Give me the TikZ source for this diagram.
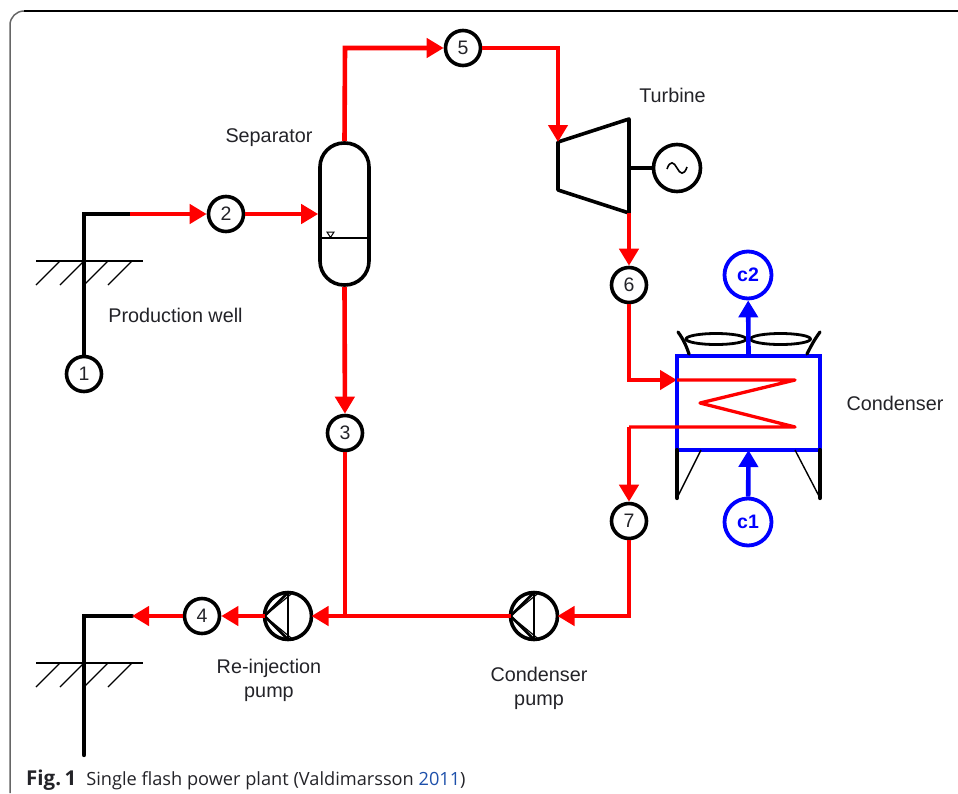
\documentclass[tikz,border=0pt]{standalone}
\usepackage{fontspec}
\setmainfont{Liberation Sans}
\newfontfamily\capfont{Open Sans}
\usetikzlibrary{arrows.meta}
\definecolor{pipered}{RGB}{255,0,0}
\definecolor{coolblue}{RGB}{0,0,255}
\definecolor{labelink}{RGB}{35,35,40}
\definecolor{citeblue}{RGB}{30,80,170}
\tikzset{
  statept/.style={circle,draw=black,line width=3.6pt,minimum size=35pt,inner sep=0pt,font=\fontsize{19.5}{19.5}\selectfont,text=labelink},
  coolpt/.style={circle,draw=coolblue,line width=3.8pt,minimum size=47pt,inner sep=0pt,text=coolblue,font=\fontsize{19.5}{19.5}\selectfont\bfseries},
  machine/.style={circle,draw=black,line width=3.6pt,minimum size=47pt,inner sep=0pt,outer sep=0pt},
  lbl/.style={inner sep=0pt,text=labelink,font=\fontsize{19.8}{24}\selectfont,align=center},
  red pipe/.style={draw=pipered,line width=4.6pt},
  red flow/.style={red pipe,-{Triangle[length=17pt,width=19pt]}},
  blue flow/.style={draw=coolblue,line width=4.6pt,-{Triangle[length=17pt,width=19pt]}},
  blackpipe/.style={draw=black,line width=4.4pt},
  thin line/.style={draw=black,line width=1.3pt},
  pumpline/.style={draw=black,line width=2.6pt},
}
\begin{document}
\begin{tikzpicture}[x=1pt,y=-1pt]
\useasboundingbox (0,0) rectangle (958,793);
% frame
\draw[black!60,line width=1.5pt,rounded corners=14pt] (10,793) -- (10,11) -- (40,11);
\draw[black,line width=1.5pt] (24,11) -- (958,11);
% nodes
\node[statept] (n1) at (84,374) {1};
\node[statept] (n2) at (226,214) {2};
\node[statept] (n3) at (345,433) {3};
\node[statept] (n4) at (202,616) {4};
\node[statept] (n5) at (463,48) {5};
\node[statept] (n6) at (629,285) {6};
\node[statept] (n7) at (629,521) {7};
\node[coolpt] (c2) at (748,275) {c2};
\node[coolpt] (c1) at (748,522) {c1};
\node[machine] (gen) at (677,168) {};
\node[machine] (rpump) at (288,616) {};
\node[machine] (cpump) at (534,616) {};
\node[draw=black,line width=3.6pt,rounded corners=24pt,minimum width=49pt,minimum height=142pt,inner sep=0pt] (sep) at (344.5,214) {};
% coordinates
\coordinate (wellA) at (84,214);
\coordinate (wellB) at (130,214);
\coordinate (rwellA) at (84,755);
\coordinate (rwellB) at (84,616);
\coordinate (rwellC) at (132,616);
\coordinate (tA) at (558,142);
\coordinate (tB) at (629,119);
\coordinate (tC) at (629,213);
\coordinate (tD) at (558,190);
\coordinate (tS) at (629,168);
\coordinate (sepup) at (345,48);
\coordinate (to5) at (558,48);
\coordinate (jn3) at (345,616);
\coordinate (jn7) at (629,616);
\coordinate (cin) at (629,380);
\coordinate (cinT) at (677,380);
\coordinate (coilA) at (795,380);
\coordinate (coilB) at (700,403);
\coordinate (coilC) at (795,427);
\coordinate (cout) at (629,427);
% wells
\draw[blackpipe,line cap=round] (n1) -- (wellA) -- (wellB);
\draw[blackpipe,line cap=round] (rwellA) -- (rwellB) -- (rwellC);
\foreach \y in {261,663}{
  \draw[thin line] (36,\y) -- (143,\y);
  \foreach \x in {60,84,108,132}{\draw[thin line] (\x,\y) -- (\x-24,\y+24);}
}
% separator details
\draw[thin line] (sep.west |- 0,238) -- (sep.east |- 0,238);
\draw[draw=black,line width=1pt] (327,232) -- (334,232) -- (330.5,237.5) -- cycle;
% turbine
\draw[draw=black,line width=3.6pt,line join=round] (tA) -- (tB) -- (tC) -- (tD) -- cycle;
\draw[draw=black,line width=3.6pt] (tS) -- (gen);
\draw[line width=1.6pt] (667,169) .. controls (670,160) and (674,162) .. (677,168) .. controls (680,174) and (684,176) .. (687,167);
% pumps
\foreach \c in {rpump,cpump}{
  \draw[pumpline] (\c.north) -- (\c.south);
  \draw[pumpline,line join=bevel] (\c.north) -- (\c.west) -- (\c.south);
  \draw[line width=1.2pt,shorten <=1pt,shorten >=3pt] ([xshift=5pt]\c.north) -- (\c.west);
  \draw[line width=1.2pt,shorten <=1pt,shorten >=3pt] ([xshift=5pt]\c.south) -- (\c.west);
}
% red pipes
\draw[red flow] (wellB) -- (n2);
\draw[red flow] (n2) -- (sep.west);
\draw[red flow,line join=miter] (sep.north) -- (sepup) -- (n5);
\draw[red flow] (n5) -- (to5) -- (tA);
\draw[red flow] (tC) -- (n6);
\draw[red flow] (n6) -- (cin) -- (cinT);
\draw[red flow] (sep.south) -- (n3);
\draw[red pipe] (n3) -- (jn3);
\draw[red flow] (cpump) -- (rpump);
\draw[red flow] (rpump) -- (n4);
\draw[red flow] (n4) -- (rwellC);
\draw[red flow] (n7) -- (jn7) -- (cpump);
% condenser
\draw[draw=coolblue,line width=4.6pt] (677,450) -- (677,356) -- (820,356) -- (820,450);
\node[draw=coolblue,line width=3.2pt,minimum width=143pt,minimum height=94pt,inner sep=0pt,outer sep=0pt] (cond) at (748.5,403) {};
\draw[red flow] (cout) -- (n7);
\draw[draw=pipered,line width=3.3pt,line join=round] (cinT) -- (coilA) -- (coilB) -- (coilC) -- (cout);
\draw[draw=black,line width=3.2pt,line cap=round] (678,332) .. controls (684,340) and (687,348) .. (689,354);
\draw[draw=black,line width=3.2pt,line cap=round] (820,332) .. controls (814,340) and (810,348) .. (807,354);
\draw[draw=black,line width=2.8pt] (716,339) ellipse[x radius=30,y radius=5.5];
\draw[draw=black,line width=2.8pt] (780.5,339) ellipse[x radius=30,y radius=5.5];
\draw[draw=black,line width=4.2pt,line cap=round] (cond.south west) -- (677,498);
\draw[draw=black,line width=4.2pt,line cap=round] (cond.south east) -- (820,498);
\draw[draw=black,line width=1.4pt] (677,498) -- (701,450);
\draw[draw=black,line width=1.4pt] (820,498) -- (795,450);
\draw[blue flow] (cond.north) -- (c2);
\draw[blue flow] (c1) -- (cond.south);
% labels
\node[lbl] (lturb) at (672.5,95) {Turbine};
\node[lbl] (lsep) at (269,137.5) {Separator};
\node[lbl] (lwell) at (175.5,315) {Production well};
\node[lbl] (lcond) at (895,403) {Condenser};
\node[lbl] (lrp) at (269,680) {Re-injection\\pump};
\node[lbl] (lcp) at (539,688) {Condenser\\pump};
\node[anchor=base west,inner sep=0pt,font=\capfont\fontsize{18.2}{20}\selectfont,text=labelink] (cap) at (26,785) {{\fontsize{20.5}{20}\selectfont\bfseries Fig.\,1}\hspace{0.55em}Single flash power plant (Valdimarsson \textcolor{citeblue}{2011})};
\end{tikzpicture}
\end{document}
